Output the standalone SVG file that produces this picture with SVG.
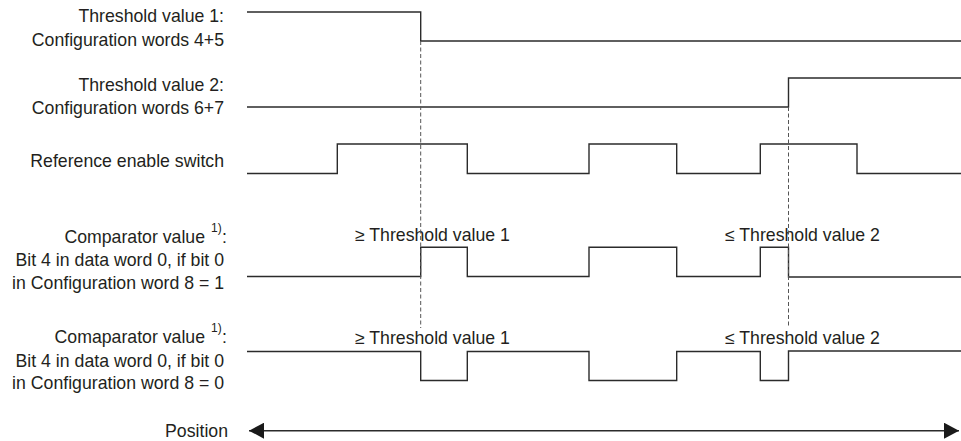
<svg xmlns="http://www.w3.org/2000/svg" width="961" height="441" viewBox="0 0 961 441">
<style>
  text { font-family: "Liberation Sans", Arial, sans-serif; font-size: 17.7px; fill: #231f20; }
  .lbl { text-anchor: end; }
  .sup { font-size: 12px; }
  .sig { fill: none; stroke: #2b2b2b; stroke-width: 1.4; }
  .dash { fill: none; stroke: #555; stroke-width: 1; stroke-dasharray: 4 2.5; }
  .axis { fill: none; stroke: #2b2b2b; stroke-width: 1.4; }
</style>
<defs>
  <marker id="arr" viewBox="0 0 15 16" refX="15" refY="8" markerWidth="15" markerHeight="16" markerUnits="userSpaceOnUse" orient="auto-start-reverse">
    <path d="M0,0 L15,8 L0,16 Z" fill="#1a1a1a"/>
  </marker>
</defs>
<rect width="961" height="441" fill="#ffffff"/>

<g id="threshold1">
  <text class="lbl" x="224" y="21.7">Threshold value 1:</text>
  <text class="lbl" x="224" y="45.7">Configuration words 4+5</text>
  <path class="sig" d="M247,12 H420.7 V41 H961"/>
</g>

<g id="threshold2">
  <text class="lbl" x="224" y="90.7">Threshold value 2:</text>
  <text class="lbl" x="224" y="114.3">Configuration words 6+7</text>
  <path class="sig" d="M247,107 H788.5 V78 H961"/>
</g>

<g id="reference">
  <text class="lbl" x="224" y="166.7">Reference enable switch</text>
  <path class="sig" d="M247,173.5 H337.3 V144 H467.3 V173.5 H589 V144 H676.7 V173.5 H760.3 V144 H857 V173.5 H961"/>
</g>

<g id="comparator1">
  <text class="lbl" x="205" y="243">Comparator value</text>
  <text class="sup" x="211" y="232">1)</text>
  <text x="222" y="243">:</text>
  <text class="lbl" x="224" y="266.3">Bit 4 in data word 0, if bit 0</text>
  <text class="lbl" x="224" y="288.5">in Configuration word 8 = 1</text>
  <text x="355" y="241">≥ Threshold value 1</text>
  <text x="725" y="241">≤ Threshold value 2</text>
  <path class="sig" d="M247,276.5 H420.7 V247.3 H467.3 V276.5 H589 V247.3 H676.7 V276.5 H760.3 V247.3 H788.5 V277 H961"/>
</g>

<g id="comparator2">
  <text class="lbl" x="205" y="343.3">Comaparator value</text>
  <text class="sup" x="211" y="332.3">1)</text>
  <text x="222" y="343.3">:</text>
  <text class="lbl" x="224" y="366.5">Bit 4 in data word 0, if bit 0</text>
  <text class="lbl" x="224" y="388.5">in Configuration word 8 = 0</text>
  <text x="355" y="343.5">≥ Threshold value 1</text>
  <text x="725" y="343.5">≤ Threshold value 2</text>
  <path class="sig" d="M247,351.5 H420.7 V380.5 H467.3 V351.5 H589 V380.5 H676.7 V351.5 H760.3 V380.5 H788.5 V351 H961"/>
</g>

<g id="position">
  <text class="lbl" x="228" y="437">Position</text>
</g>

<g id="connectors">
  <path class="dash" d="M420.7,41 V328"/>
  <path class="dash" d="M788.5,107 V328"/>
  <path class="axis" d="M249,430.7 H959" marker-start="url(#arr)" marker-end="url(#arr)"/>
</g>
</svg>
